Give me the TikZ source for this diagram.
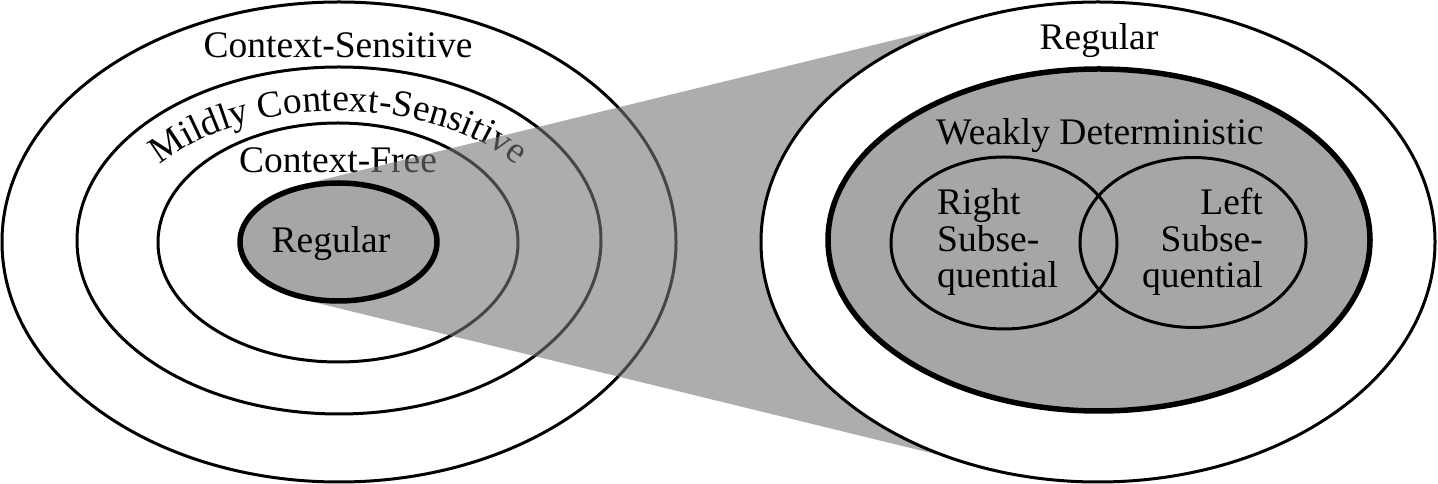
\documentclass[tikz,border=0pt]{standalone}
\usepackage{fontspec}
\setmainfont{Liberation Serif}
\usetikzlibrary{decorations.text}
\newcommand\lblfont{\fontsize{37.5}{36.5}\selectfont}
\definecolor{shadefill}{RGB}{166,166,166}
\definecolor{overlaygray}{RGB}{118,118,118}
\begin{document}
\begin{tikzpicture}[x=1pt,y=1pt,
  ring/.style={draw=black, line width=3pt},
  thickring/.style={draw=black, line width=5.5pt, fill=shadefill},
  lbl/.style={font=\lblfont, inner sep=0pt},
  zoomshade/.style={fill=overlaygray, fill opacity=0.6, draw=none}]
\useasboundingbox (0,0) rectangle (1438,484);
% left nested ellipses
\draw[ring] (339,242) ellipse [x radius=337pt, y radius=240pt];
\draw[ring] (339,243.5) ellipse [x radius=262pt, y radius=173.5pt];
\draw[ring] (338,241.5) ellipse [x radius=180pt, y radius=119.5pt];
\node[lbl, anchor=base] (cs) at (338,426) {Context-Sensitive};
\path[decorate, decoration={text along path, text align={center},
  text={|\lblfont|Mildly Context-Sensitive}}]
  (118,242) arc[start angle=180, end angle=0, x radius=220pt, y radius=131pt];
\node[lbl, anchor=base] (cf) at (338,311) {Context-Free};
% zoom wedge
\fill[zoomshade] (305,300) -- (990,467.4) -- (1098,242) -- (990,16.6) -- (305,184) -- cycle;
% small regular
\draw[thickring] (338.5,242) ellipse [x radius=98.5pt, y radius=59pt];
\node[lbl, anchor=base] (regsmall) at (331,231) {Regular};
% right side
\draw[ring, fill=white] (1098,242) ellipse [x radius=337pt, y radius=240pt];
\node[lbl, anchor=base] (regbig) at (1099,434) {Regular};
\draw[thickring] (1099,244) ellipse [x radius=271pt, y radius=171pt];
\node[lbl, anchor=base] (wd) at (1100,339) {Weakly Deterministic};
\draw[ring] (1004,241) ellipse [x radius=113pt, y radius=86pt];
\draw[ring] (1193,241.5) ellipse [x radius=113pt, y radius=85pt];
\node[lbl, anchor=north west, align=left] (rs) at (937,295.6) {Right\\Subse-\\quential};
\node[lbl, anchor=north east, align=right] (ls) at (1263,295.6) {Left\\Subse-\\quential};
\end{tikzpicture}
\end{document}
